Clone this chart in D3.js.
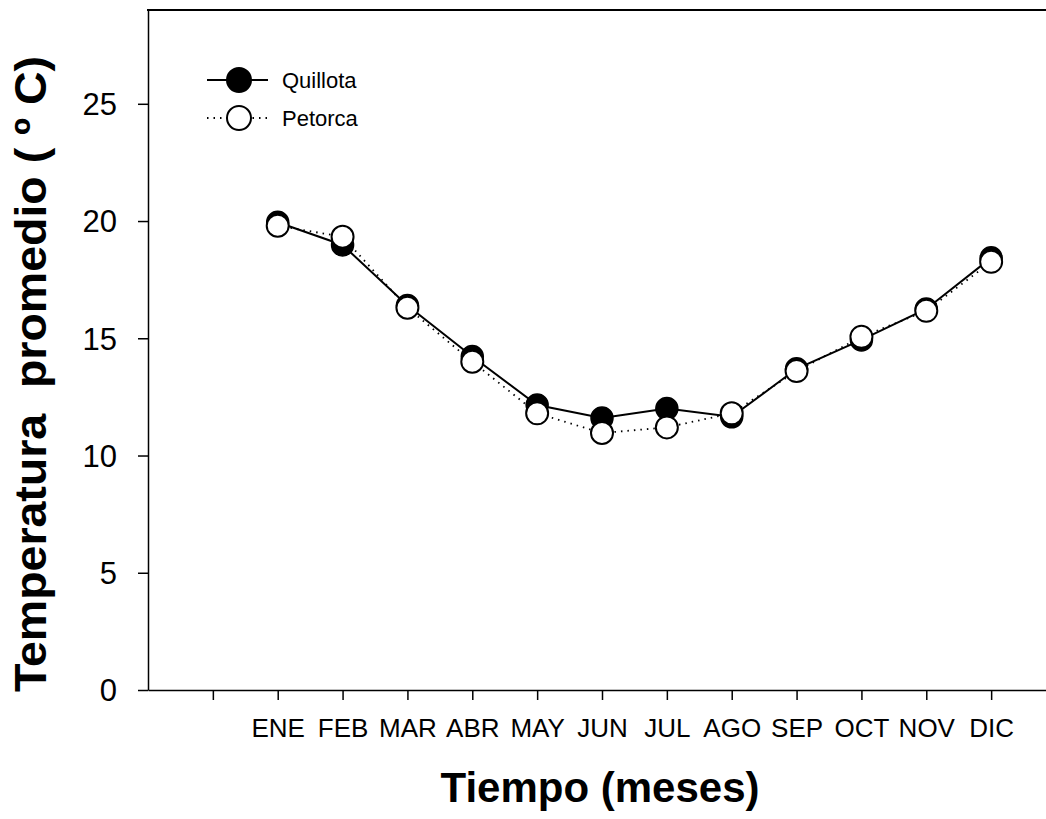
<!DOCTYPE html>
<html>
<head>
<meta charset="utf-8">
<script src="https://cdn.jsdelivr.net/npm/d3@7"></script>
<style>
  body { margin: 0; background: #fff; }
  svg { display: block; font-family: "Liberation Sans", Arial, sans-serif; }
</style>
</head>
<body>
<div class="chart"></div>
<script>
// Month labels (tick 0 has no label)
var months = ["ENE", "FEB", "MAR", "ABR", "MAY", "JUN", "JUL", "AGO", "SEP", "OCT", "NOV", "DIC"];

// Average temperature per month (ºC)
var quillota = [19.95, 18.98, 16.4, 14.22, 12.15, 11.6, 12.0, 11.65, 13.7, 14.93, 16.25, 18.43];
var petorca = [19.8, 19.33, 16.3, 14.0, 11.8, 10.96, 11.2, 11.8, 13.6, 15.06, 16.17, 18.26];

var yTicks = [0, 5, 10, 15, 20, 25];

var svgWidth = 1046;
var svgHeight = 819;

var svg = d3.select(".chart")
  .append("svg")
  .attr("width", svgWidth)
  .attr("height", svgHeight);

// x: month index, 0 is an empty slot before ENE
var xScale = d3.scaleLinear()
  .domain([-1, 13])
  .range([148, 1056]);

var yScale = d3.scaleLinear()
  .domain([0, 29])
  .range([690, 10]);

// top frame line
svg.append("line")
  .attr("x1", 147).attr("x2", svgWidth)
  .attr("y1", 10).attr("y2", 10)
  .attr("stroke", "#000")
  .attr("stroke-width", 2);

var leftAxis = d3.axisLeft(yScale)
  .tickValues(yTicks)
  .tickSize(10)
  .tickSizeOuter(0)
  .tickPadding(21);

var bottomAxis = d3.axisBottom(xScale)
  .tickValues(d3.range(0, 13))
  .tickFormat(i => i === 0 ? "" : months[i - 1])
  .tickSize(10)
  .tickSizeOuter(0)
  .tickPadding(19);

var gy = svg.append("g")
  .attr("transform", "translate(148,0)")
  .call(leftAxis);
gy.attr("font-size", 31);
gy.selectAll("text")
  .attr("fill", "#000")
  .attr("dy", "0.35em")
  .attr("font-family", "Liberation Sans, Arial, sans-serif");
gy.selectAll("line, path").attr("stroke", "#000").attr("stroke-width", 1.5);

var gx = svg.append("g")
  .attr("transform", "translate(0,690)")
  .call(bottomAxis);
gx.attr("font-size", 26);
gx.selectAll("text")
  .attr("fill", "#000")
  .attr("font-family", "Liberation Sans, Arial, sans-serif");
gx.selectAll("line, path").attr("stroke", "#000").attr("stroke-width", 1.5);

// lines and markers
var line = d3.line()
  .x((d, i) => xScale(i + 1))
  .y(d => yScale(d));

svg.append("path")
  .datum(quillota)
  .attr("d", line)
  .attr("fill", "none")
  .attr("stroke", "#000")
  .attr("stroke-width", 2);

svg.selectAll(".q")
  .data(quillota)
  .enter()
  .append("circle")
  .attr("class", "q")
  .attr("cx", (d, i) => xScale(i + 1))
  .attr("cy", d => yScale(d))
  .attr("r", 11)
  .attr("fill", "#000")
  .attr("stroke", "#000")
  .attr("stroke-width", 1.5);

svg.append("path")
  .datum(petorca)
  .attr("d", line)
  .attr("fill", "none")
  .attr("stroke", "#000")
  .attr("stroke-width", 1.8)
  .attr("stroke-dasharray", "1.5,5");

svg.selectAll(".p")
  .data(petorca)
  .enter()
  .append("circle")
  .attr("class", "p")
  .attr("cx", (d, i) => xScale(i + 1))
  .attr("cy", d => yScale(d))
  .attr("r", 11)
  .attr("fill", "#fff")
  .attr("stroke", "#000")
  .attr("stroke-width", 2);

// legend
var legend = svg.append("g");
var legendItems = [
  { name: "Quillota", y: 80, fill: "#000", dash: null },
  { name: "Petorca", y: 118, fill: "#fff", dash: "1.5,5" }
];
legendItems.forEach(function(item) {
  legend.append("line")
    .attr("x1", 207).attr("x2", 268)
    .attr("y1", item.y).attr("y2", item.y)
    .attr("stroke", "#000")
    .attr("stroke-width", item.dash ? 1.8 : 2)
    .attr("stroke-dasharray", item.dash);
  legend.append("circle")
    .attr("cx", 239).attr("cy", item.y)
    .attr("r", 12)
    .attr("fill", item.fill)
    .attr("stroke", "#000")
    .attr("stroke-width", 2);
  legend.append("text")
    .attr("x", 282).attr("y", item.y + 8)
    .attr("font-size", 22)
    .text(item.name);
});

// axis titles
svg.append("text")
  .attr("x", 600)
  .attr("y", 802)
  .attr("text-anchor", "middle")
  .attr("font-size", 42)
  .attr("font-weight", "bold")
  .text("Tiempo (meses)");

svg.append("text")
  .attr("transform", "translate(46,374) rotate(-90)")
  .attr("text-anchor", "middle")
  .attr("font-size", 45)
  .attr("font-weight", "bold")
  .attr("textLength", 636)
  .attr("lengthAdjust", "spacingAndGlyphs")
  .style("white-space", "pre")
  .text("Temperatura  promedio ( º C)");
</script>
</body>
</html>
